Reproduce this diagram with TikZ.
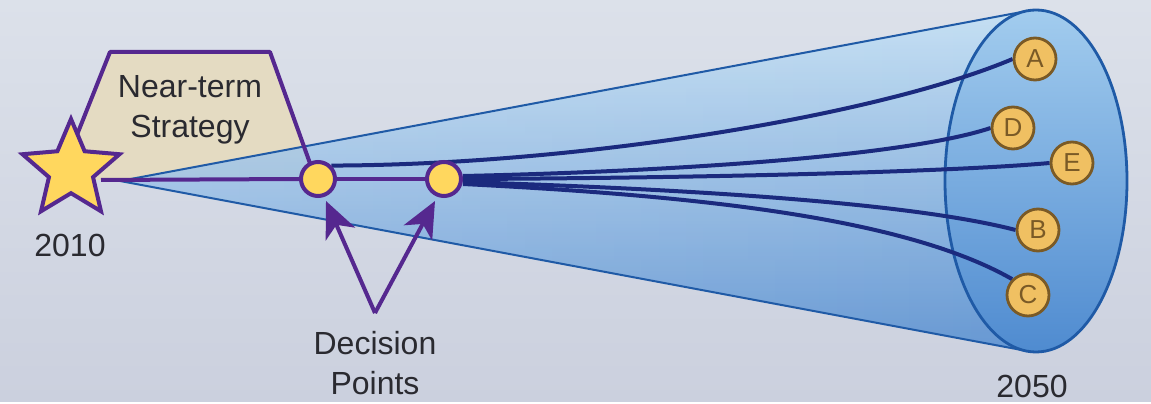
\documentclass[tikz,border=0pt]{standalone}
\usepackage{fontspec}
\setmainfont{Liberation Sans}
\usetikzlibrary{shapes.geometric,arrows.meta,fadings}
\definecolor{bgtop}{HTML}{DCE1EA}
\definecolor{bgbot}{HTML}{CBD0DE}
\definecolor{plum}{HTML}{55288F}
\definecolor{tan}{HTML}{E4DBC2}
\definecolor{gold}{HTML}{FFD75E}
\definecolor{navy}{HTML}{1B2A7E}
\definecolor{rim}{HTML}{1F5AA6}
\definecolor{conetop}{HTML}{C0E0F6}
\definecolor{conebot}{HTML}{4C89D0}
\definecolor{endtop}{HTML}{A2CCEE}
\definecolor{endbot}{HTML}{4F8BD0}
\definecolor{orb}{HTML}{F0C062}
\definecolor{orbline}{HTML}{7A5A26}
\definecolor{ink}{HTML}{2A2A30}
\tikzfading[name=apexfade, left color=transparent!60, right color=transparent!100]
\pgfdeclarelayer{back}
\pgfdeclarelayer{mid}
\pgfsetlayers{back,mid,main}
\tikzset{
  label/.style={text=ink, font=\fontsize{16}{20}\selectfont, align=center},
  point/.style={circle, fill=gold, draw=plum, line width=2pt, minimum size=17pt, inner sep=0pt},
  outcome/.style={circle, fill=orb, draw=orbline, line width=1.4pt, minimum size=21pt, inner sep=0pt,
    text=orbline, font=\fontsize{13}{13}\selectfont},
  route/.style={navy, line width=2pt},
  pointer/.style={plum, line width=2pt, -{Stealth[length=18pt, width=16pt, inset=5pt]}}
}
\begin{document}
\begin{tikzpicture}[x=0.5pt, y=-0.5pt]
\node[star, star points=5, star point ratio=2.2, minimum size=51pt, inner sep=0pt,
  fill=gold, draw=plum, line width=2pt] (start) at (71,170) {};
\node[point] (dp1) at (318,179) {};
\node[point] (dp2) at (444,179) {};
\node[outcome] (A) at (1035,59) {A};
\node[outcome] (D) at (1013,128) {D};
\node[outcome] (E) at (1072,163) {E};
\node[outcome] (B) at (1038,230) {B};
\node[outcome] (C) at (1028,295) {C};
\node[label] (near) at (190,110) {Near-term\\Strategy};
\node[label] (dec) at (375,363) {Decision\\Points};
\node[label] (y1) at (70,245) {2010};
\node[label] (y2) at (1032,386) {2050};
\coordinate (fork) at (375,313);
\draw[pointer] (fork) -- (326,201);
\draw[pointer] (fork) -- (435,201);
\begin{pgfonlayer}{back}
\fill[top color=bgtop, bottom color=bgbot] (0,0) rectangle (1151,401);
% near-term box
\coordinate (nl) at (59,180);
\coordinate (nr) at (316,180);
\fill[tan] (nl) -- (110,52) -- (270,52) -- (nr) -- cycle;
% cone
\coordinate (apex) at (120,181);
\coordinate (ct) at (1027,11);
\coordinate (cb) at (1027,351);
\shade[top color=conetop, bottom color=conebot, fill opacity=0.8] (apex) -- (ct) -- (cb) -- cycle;
\fill[white, path fading=apexfade, fill opacity=0.4] (apex) -- (ct) -- (cb) -- cycle;
\draw[rim, line width=1pt] (ct) -- (apex) -- (cb);
\draw[plum, line width=2pt, line join=round] (nl) -- (110,52) -- (270,52) -- (nr);
\shade[top color=endtop, bottom color=endbot] (1036,181) ellipse [x radius=91, y radius=171];
\draw[rim, line width=1.4pt] (1036,181) ellipse [x radius=91, y radius=171];
\end{pgfonlayer}
\begin{pgfonlayer}{mid}
\draw[plum, line width=2pt] (start.center) ++(30,10) -- (dp1.west);
\draw[plum, line width=2pt] (dp1) -- (dp2);
\draw[route] (dp1.north east) .. controls (580,165) and (880,115) .. (A.west);
\draw[route] (dp2.east) ++(0,-3) .. controls (650,172) and (900,158) .. (D.west);
\draw[route] (dp2.east) .. controls (700,178) and (950,172) .. (E.west);
\draw[route] (dp2.east) ++(0,3) .. controls (650,188) and (900,200) .. (B.west);
\draw[route] (dp2.east) ++(0,5) .. controls (680,195) and (900,215) .. (C.north west);
\end{pgfonlayer}
\useasboundingbox (0,0) rectangle (1151,401);
\end{tikzpicture}
\end{document}
